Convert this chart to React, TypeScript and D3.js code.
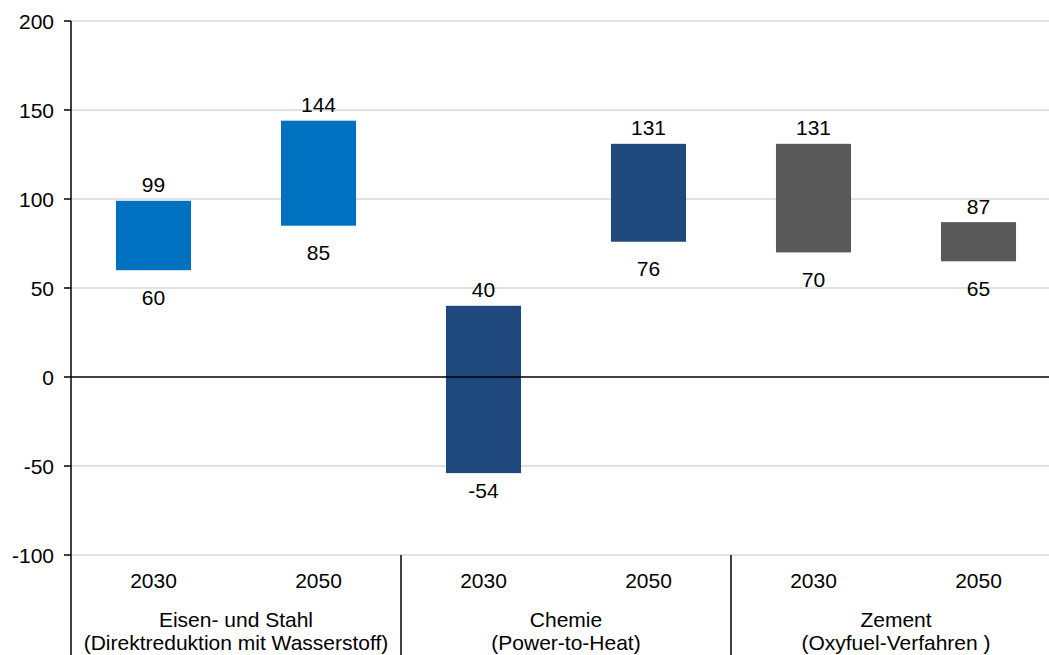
import React, { useEffect } from "react";
import * as d3 from "d3";

const groups = ["Eisen- und Stahl", "Chemie", "Zement"];
const groupSub = ["(Direktreduktion mit Wasserstoff)", "(Power-to-Heat)", "(Oxyfuel-Verfahren )"];
const years = ["2030", "2050"];
const lowValues = [60, 85, -54, 76, 70, 65];
const highValues = [99, 144, 40, 131, 131, 87];
const groupColors = ["#0070C0", "#1F497D", "#595959"];
const yTicks = [-100, -50, 0, 50, 100, 150, 200];

const W = 1049;
const H = 655;
const FONT = "Liberation Sans, Arial, sans-serif";

export default function App() {
  useEffect(() => {
    document.body.style.margin = "0";
    document.body.style.overflow = "hidden";
  }, []);

  const left = 71;
  const right = 1061;
  const top = 21;
  const bottom = 555;

  const keys = lowValues.map((_, i) => `${i}`);
  const x = d3.scaleBand<string>().domain(keys).range([left, right]).paddingInner(0.545).paddingOuter(0.2725);
  const y = d3.scaleLinear().domain([-100, 200]).range([bottom, top]);
  const groupX = d3.scaleBand<string>().domain(groups).range([left, right]);

  return (
    <svg width={W} height={H} style={{ display: "block" }} fontFamily={FONT}>
      {/* gridlines */}
      {yTicks.filter((t) => t !== 0).map((t) => (
        <line key={t} x1={left} x2={W} y1={y(t)} y2={y(t)} stroke="#D9D9D9" strokeWidth={1.5} />
      ))}
      {/* bars */}
      {keys.map((k, i) => {
        const lo = lowValues[i];
        const hi = highValues[i];
        const color = groupColors[Math.floor(i / 2)];
        const cx = (x(k) as number) + x.bandwidth() / 2;
        return (
          <g key={k}>
            <rect x={x(k)} width={x.bandwidth()} y={y(hi)} height={y(lo) - y(hi)} fill={color} />
            <text x={cx} y={y(hi) - 16} textAnchor="middle" dominantBaseline="central" fontSize={21} fill="#000">
              {hi}
            </text>
            <text x={cx} y={y(lo) + (lo < 0 ? 17 : 27)} textAnchor="middle" dominantBaseline="central" fontSize={21} fill="#000">
              {lo}
            </text>
            <text x={cx} y={580} textAnchor="middle" dominantBaseline="central" fontSize={21} fill="#000">
              {years[i % 2]}
            </text>
          </g>
        );
      })}
      {/* zero line */}
      <line x1={left} x2={W} y1={y(0)} y2={y(0)} stroke="#000" strokeWidth={1.5} />
      {/* y axis */}
      <line x1={left} x2={left} y1={top} y2={H} stroke="#000" strokeWidth={1.5} />
      {yTicks.map((t) => (
        <g key={t}>
          <line x1={left - 7} x2={left} y1={y(t)} y2={y(t)} stroke="#000" strokeWidth={1.5} />
          <text x={54} y={y(t)} textAnchor="end" dominantBaseline="central" fontSize={21} fill="#000">
            {t}
          </text>
        </g>
      ))}
      {/* group separators and labels */}
      {groups.map((g, gi) => {
        const gx = groupX(g) as number;
        const cx = gx + groupX.bandwidth() / 2;
        return (
          <g key={g}>
            {gi > 0 && <line x1={gx} x2={gx} y1={bottom} y2={H} stroke="#000" strokeWidth={1.5} />}
            <text x={cx} y={619} textAnchor="middle" dominantBaseline="central" fontSize={21} fill="#000">
              {g}
            </text>
            <text x={cx} y={642} textAnchor="middle" dominantBaseline="central" fontSize={21} fill="#000">
              {groupSub[gi]}
            </text>
          </g>
        );
      })}
    </svg>
  );
}
